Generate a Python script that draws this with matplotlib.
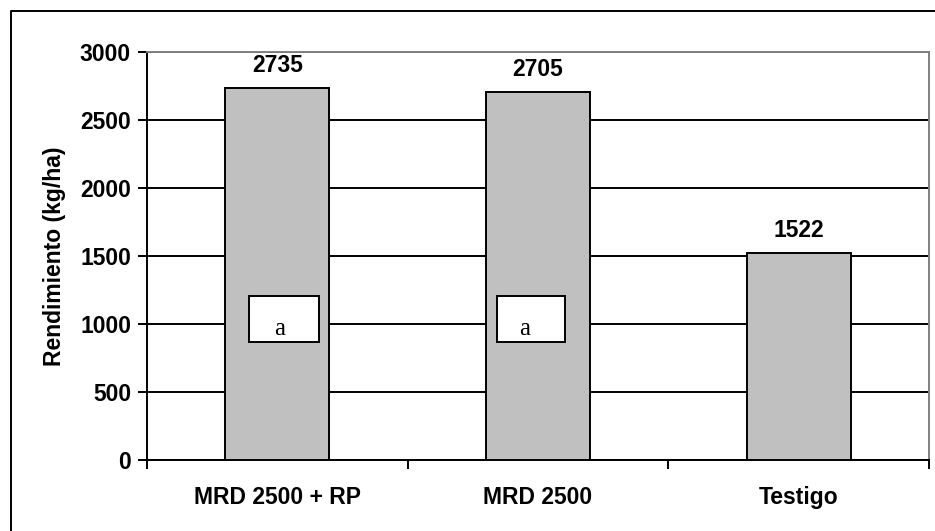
import matplotlib
matplotlib.use("Agg")
import matplotlib.pyplot as plt
from matplotlib.patches import Rectangle
from matplotlib.lines import Line2D

categorias = ["MRD 2500 + RP", "MRD 2500", "Testigo"]
rendimiento = [2735, 2705, 1522]
letras = ["a", "a", ""]
y_ticks = [0, 500, 1000, 1500, 2000, 2500, 3000]

plt.rcParams['font.family'] = ['Liberation Sans', 'DejaVu Sans']

LW = 1.4
W, H = 935, 531
fig = plt.figure(figsize=(W / 100, H / 100), dpi=100)
ax = fig.add_axes([147 / W, (H - 460) / H, (929 - 147) / W, (460 - 52) / H])

x = list(range(len(categorias)))
ax.bar(x, rendimiento, width=0.4, color='#c0c0c0', edgecolor='black', linewidth=LW, zorder=3)

for xi, v in zip(x, rendimiento):
    ax.annotate(str(v), (xi, v), xytext=(0, 8), textcoords='offset points',
                ha='center', va='bottom', fontsize=16.5, fontweight='bold')

# cajas con letras de significancia
box_x = [(-0.107, 0.161), (0.843, 1.104)]
text_x = [0.008, 0.95]
for (x0, x1), tx, letra in zip(box_x, text_x, letras):
    ax.add_patch(Rectangle((x0, 868), x1 - x0, 1206 - 868, facecolor='white',
                           edgecolor='black', linewidth=LW, zorder=4))
    ax.text(tx, 965, letra, ha='center', va='center', fontsize=18,
            family=['Liberation Serif', 'DejaVu Serif'], zorder=5)

ax.set_ylim(0, 3000)
ax.set_xlim(-0.5, 2.5)
ax.set_yticks(y_ticks)
ax.set_yticklabels([str(t) for t in y_ticks], fontsize=16.5, fontweight='bold')
ax.yaxis.grid(True, color='black', linewidth=LW, zorder=0)
ax.set_axisbelow(True)

ax.set_xticks([-0.5, 0.5, 1.5, 2.5])
ax.set_xticklabels([])
ax.set_xticks(x, minor=True)
ax.set_xticklabels(categorias, minor=True, fontsize=16.5, fontweight='bold')
ax.tick_params(axis='x', which='minor', length=0, pad=19)
ax.tick_params(axis='both', which='major', direction='out', length=6.5, width=LW, color='black')
ax.tick_params(axis='y', pad=5)

for lado in ['left', 'bottom', 'top', 'right']:
    ax.spines[lado].set_linewidth(LW)
ax.spines['top'].set_color('#808080')
ax.spines['right'].set_color('#808080')

ax.set_ylabel('Rendimiento (kg/ha)', fontsize=16.5, fontweight='bold', labelpad=10)

# marco exterior
fig.add_artist(Line2D([11 / W, 11 / W, 1], [0, 1 - 11 / H, 1 - 11 / H],
                      transform=fig.transFigure, color='black', linewidth=LW))

fig.savefig('out.png', dpi=100)
